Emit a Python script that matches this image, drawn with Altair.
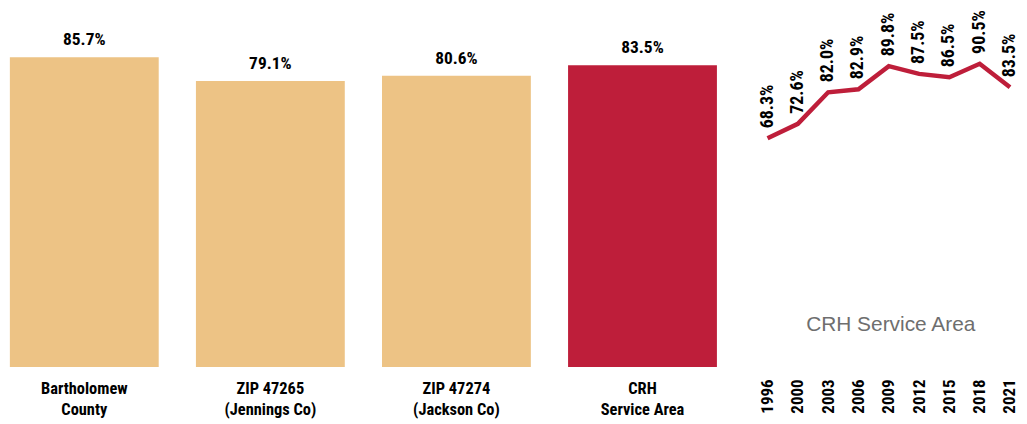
import altair as alt
import pandas as pd

# Bar data
areas = ["Bartholomew|County", "ZIP 47265|(Jennings Co)", "ZIP 47274|(Jackson Co)", "CRH|Service Area"]
rates = [85.7, 79.1, 80.6, 83.5]
bar_colors = ["#EDC385", "#EDC385", "#EDC385", "#BE1E3A"]

# Trend data
years = ["1996", "2000", "2003", "2006", "2009", "2012", "2015", "2018", "2021"]
trend = [68.3, 72.6, 82.0, 82.9, 89.8, 87.5, 86.5, 90.5, 83.5]

FONT = "Roboto Condensed, Liberation Sans Narrow, DejaVu Sans Condensed, sans-serif"

bars_df = pd.DataFrame({"area": areas, "rate": rates, "color": bar_colors})
bars_df["label"] = [f"{v:.1f}%" for v in rates]
trend_df = pd.DataFrame({"year": years, "rate": trend})
trend_df["label"] = [f"{v:.1f}%" for v in trend]

xb = alt.X("area:N", sort=areas,
           scale=alt.Scale(paddingInner=0.2, paddingOuter=0.01),
           axis=alt.Axis(title=None, labelAngle=0, domain=False, ticks=False,
                         labelExpr="split(datum.value, '|')",
                         labelFont=FONT, labelFontSize=16.5, labelFontWeight="bold",
                         labelColor="#000000", labelPadding=14, labelLineHeight=21,
                         labelBaseline="top"))
yb = alt.Y("rate:Q", scale=alt.Scale(domain=[0, 98.7]), axis=None)

bar_base = alt.Chart(bars_df).encode(x=xb, y=yb)
bars = bar_base.mark_bar().encode(color=alt.Color("color:N", scale=None))
bar_text = bar_base.mark_text(dy=-17, font=FONT, fontSize=17.5, fontWeight="bold",
                              color="#000000").encode(text="label:N")
bar_chart = (bars + bar_text).properties(width=715, height=359)

xl = alt.X("year:N", sort=years, scale=alt.Scale(type="point", padding=0.1),
           axis=alt.Axis(title=None, labelAngle=270, domain=False, ticks=False,
                         labelFont=FONT, labelFontSize=17, labelFontWeight="bold",
                         labelColor="#000000", labelPadding=12))
yl = alt.Y("rate:Q", scale=alt.Scale(domain=[0, 106.5]), axis=None)
line_base = alt.Chart(trend_df).encode(x=xl, y=yl)
line = line_base.mark_line(color="#BE1E3A", strokeWidth=4.5)
line_text = line_base.mark_text(angle=270, align="left", baseline="middle", dx=10,
                                font=FONT, fontSize=18, fontWeight="bold",
                                color="#000000").encode(text="label:N")
title_text = alt.Chart(pd.DataFrame({"t": ["CRH Service Area"]})).mark_text(
    font="Liberation Sans, Arial, sans-serif", fontSize=21, color="#6E6E6E"
).encode(text="t:N", x=alt.value(127), y=alt.value(317))
line_chart = (line + line_text + title_text).properties(width=250, height=359)

chart = alt.hconcat(bar_chart, line_chart, spacing=40).properties(padding=0).configure_view(stroke=None)

chart.save("out.html", embed_options={"renderer": "svg", "actions": False})
